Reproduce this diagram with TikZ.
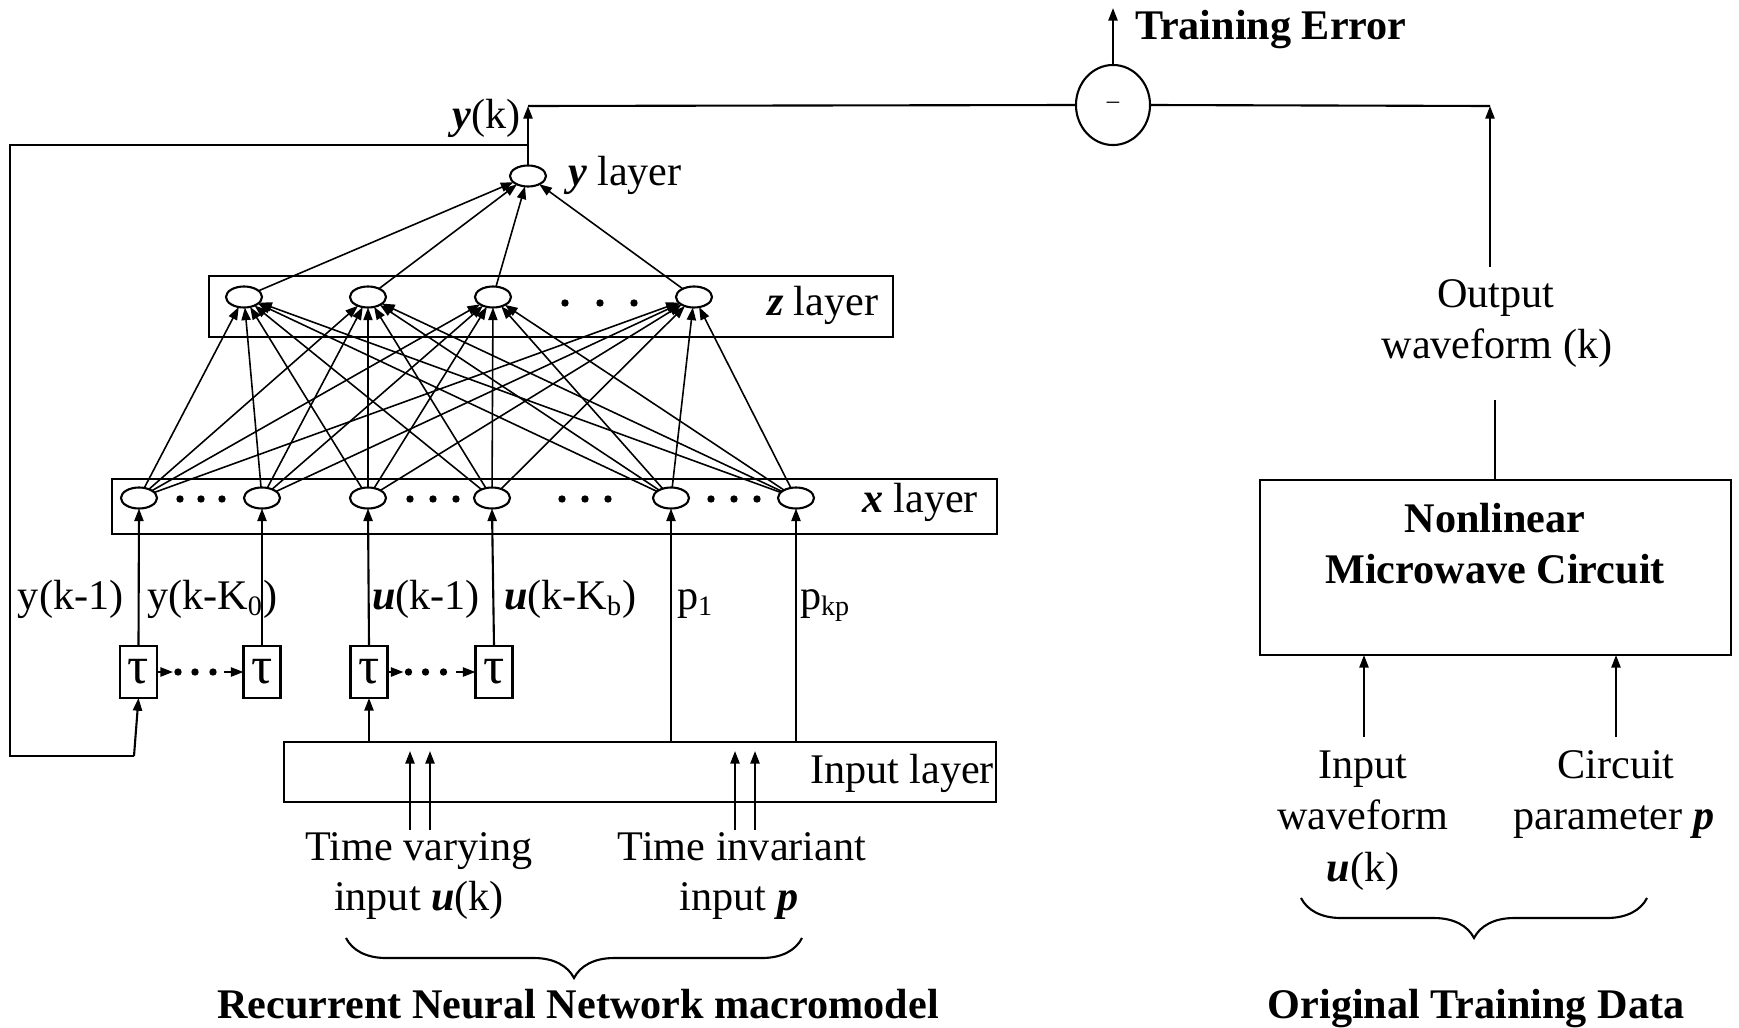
\documentclass[tikz,border=0pt]{standalone}
\usepackage{fontspec}
\setmainfont{Liberation Serif}
\usetikzlibrary{arrows.meta,shapes.geometric,fit,decorations.pathreplacing,calc}
\newcommand{\bi}[1]{\textbf{\textit{#1}}}
\newcommand{\dotat}[1]{\fill #1 circle[radius=1.05pt];}

\begin{document}
\begin{tikzpicture}[x=0.01cm,y=-0.01cm,
  every node/.style={font=\fontsize{12}{14.4}\selectfont, inner sep=0pt, outer sep=0pt},
  >={Triangle[length=3.6pt,width=2.6pt]},
  wire/.style={line width=0.6pt},
  fan/.style={line width=0.45pt,->},
  neuron/.style={draw, ellipse, line width=0.6pt, minimum width=0.36cm, minimum height=0.21cm},
  layerbox/.style={draw, rectangle, line width=0.6pt, inner sep=0pt},
  delay/.style={draw, rectangle, line width=0.6pt, minimum width=0.37cm, minimum height=0.52cm, font=\fontsize{15}{16}\selectfont},
  lbl/.style={anchor=base},
  lblw/.style={anchor=base west},
  lble/.style={anchor=base east},
  hdr/.style={anchor=base, font=\fontsize{12}{14.4}\selectfont\bfseries},
  bracket/.style={decorate, decoration={brace,mirror,amplitude=0.4cm,aspect=0.5}, line width=0.6pt}
]

% canvas
\fill[white] (0,0) rectangle (1739,1027);
\useasboundingbox (0,0) rectangle (1739,1027);

% ---------------- layer boxes ----------------
\node[layerbox, fit={(209,276) (893,337)}] (zbox) {};
\node[layerbox, fit={(112,479) (997,534)}] (xbox) {};
\node[layerbox, fit={(284,742) (996,802)}] (inbox) {};

% ---------------- neurons ----------------
\node[neuron] (y) at (528,176) {};
\foreach \i/\px in {1/244, 2/368, 3/493, 4/694}
  {\node[neuron] (z\i) at (\px,297) {};}
\foreach \i/\px in {1/139, 2/262, 3/368, 4/492, 5/671, 6/796}
  {\node[neuron] (x\i) at (\px,498) {};}

% ellipsis dots inside the layers
\foreach \px in {565,600,634} {\dotat{(\px,303)}}
\foreach \px in {180,201,222, 410,433,456, 562,585,608, 711,734,757} {\dotat{(\px,499)}}

% layer captions
\node[lblw] (ycap) at (568,185) {\bi{y} layer};
\node[lblw] (zcap) at (767,315) {\bi{z} layer};
\node[lblw] (xcap) at (862,512) {\bi{x} layer};
\node[lble] (incap) at (994,783) {Input layer};

% ---------------- connections ----------------
\foreach \i in {1,...,6}
  {\foreach \j in {1,...,4}
    {\draw[fan] (x\i) -- (z\j);}}
\foreach \j in {1,...,4}
  {\draw[fan] (z\j) -- (y);}

% ---------------- delay elements ----------------
\node[delay] (t1) at (138.5,672) {τ};
\node[delay] (t2) at (262,672) {τ};
\node[delay] (t3) at (369,672) {τ};
\node[delay] (t4) at (494,672) {τ};

\draw[wire,->] (t1.east) -- ++(16,0);
\foreach \dx in {21,38,56} {\dotat{($(t1.east)+(\dx,0)$)}}
\draw[wire,->] ($(t2.west)+(-19,0)$) -- (t2.west);
\draw[wire,->] (t3.east) -- ++(16,0);
\foreach \dx in {21,38,56} {\dotat{($(t3.east)+(\dx,0)$)}}
\draw[wire,->] ($(t4.west)+(-19,0)$) -- (t4.west);

\draw[wire,->] (t1.north) -- (x1.south);
\draw[wire,->] (t2.north) -- (x2.south);
\draw[wire,->] (t3.north) -- (x3.south);
\draw[wire,->] (t4.north) -- (x4.south);
\draw[wire,->] (t3.south |- inbox.north) -- (t3.south);
\draw[wire,->] (x5.south |- inbox.north) -- (x5.south);
\draw[wire,->] (x6.south |- inbox.north) -- (x6.south);

% delayed-signal labels
\node[lblw] (l1) at (18,609) {y(k-1)};
\node[lblw] (l2) at (147,609) {y(k-K\textsubscript{0})};
\node[lblw] (l3) at (372,609) {\bi{u}(k-1)};
\node[lblw] (l4) at (504,609) {\bi{u}(k-K\textsubscript{b})};
\node[lblw] (l5) at (677,609) {p\textsubscript{1}};
\node[lblw] (l6) at (800,609) {p\textsubscript{kp}};

% ---------------- output and feedback ----------------
\coordinate (ytop) at (528,106);
\coordinate (fbA) at (528,145);
\coordinate (fbB) at (10,145);
\coordinate (fbC) at (10,756);
\coordinate (fbD) at (134,756);
\draw[wire,->] (y.north) -- (ytop);
\draw[wire] (fbA) -- (fbB) -- (fbC) -- (fbD);
\draw[wire,->] (fbD) -- (t1.south);
\node[lble] (yk) at (521,128) {\bi{y}(k)};

% ---------------- external inputs ----------------
\foreach \n/\px in {a/410, b/430, c/735, d/755} {
  \coordinate (in\n) at (\px,830);
  \draw[wire,->] (in\n) -- (\px,751);
}
\node[lbl] (tv1) at (419,860) {Time varying};
\node[lbl] (tv2) at (419,910) {input \bi{u}(k)};
\node[lbl] (ti1) at (742,860) {Time invariant};
\node[lbl] (ti2) at (739,910) {input \bi{p}};
\draw[bracket] (346,938) -- (802,938);
\node[hdr] (rnn) at (578,1018) {Recurrent Neural Network macromodel};

% ---------------- training error ----------------
\node[draw, ellipse, line width=0.6pt, minimum width=0.74cm, minimum height=0.80cm,
      font=\fontsize{7}{8}\selectfont] (sum) at (1113,105) {–};
\coordinate (otop) at (1490,106);
\coordinate (obot) at (1490,267);
\coordinate (te) at (1113,8);
\draw[wire] (ytop) -- (sum.west);
\draw[wire] (sum.east) -- (otop);
\draw[wire,->] (obot) -- (otop);
\draw[wire,->] (sum.north) -- (te);
\node[anchor=base west, font=\fontsize{12}{14.4}\selectfont\bfseries] (tecap) at (1135,39) {Training Error};

% ---------------- original circuit ----------------
\node[lbl] (ow1) at (1496,307) {Output};
\node[lbl] (ow2) at (1497,358) {waveform (k)};
\node[layerbox, fit={(1260,480) (1731,655)}] (nmc) {};
\node[hdr] (nmc1) at (1495,532) {Nonlinear};
\node[hdr] (nmc2) at (1495,583) {Microwave Circuit};
\coordinate (owl) at (1495,400);
\draw[wire] (owl) -- (owl |- nmc.north);

\coordinate (iwa) at (1364,737);
\coordinate (cpa) at (1616,737);
\draw[wire,->] (iwa) -- (iwa |- nmc.south);
\draw[wire,->] (cpa) -- (cpa |- nmc.south);
\node[lbl] (iw1) at (1363,778) {Input};
\node[lbl] (iw2) at (1363,829) {waveform};
\node[lbl] (iw3) at (1363,881) {\bi{u}(k)};
\node[lbl] (cp1) at (1616,778) {Circuit};
\node[lbl] (cp2) at (1614,829) {parameter \bi{p}};
\draw[bracket] (1301,898) -- (1647,898);
\node[hdr] (otd) at (1476,1018) {Original Training Data};
\end{tikzpicture}
\end{document}
